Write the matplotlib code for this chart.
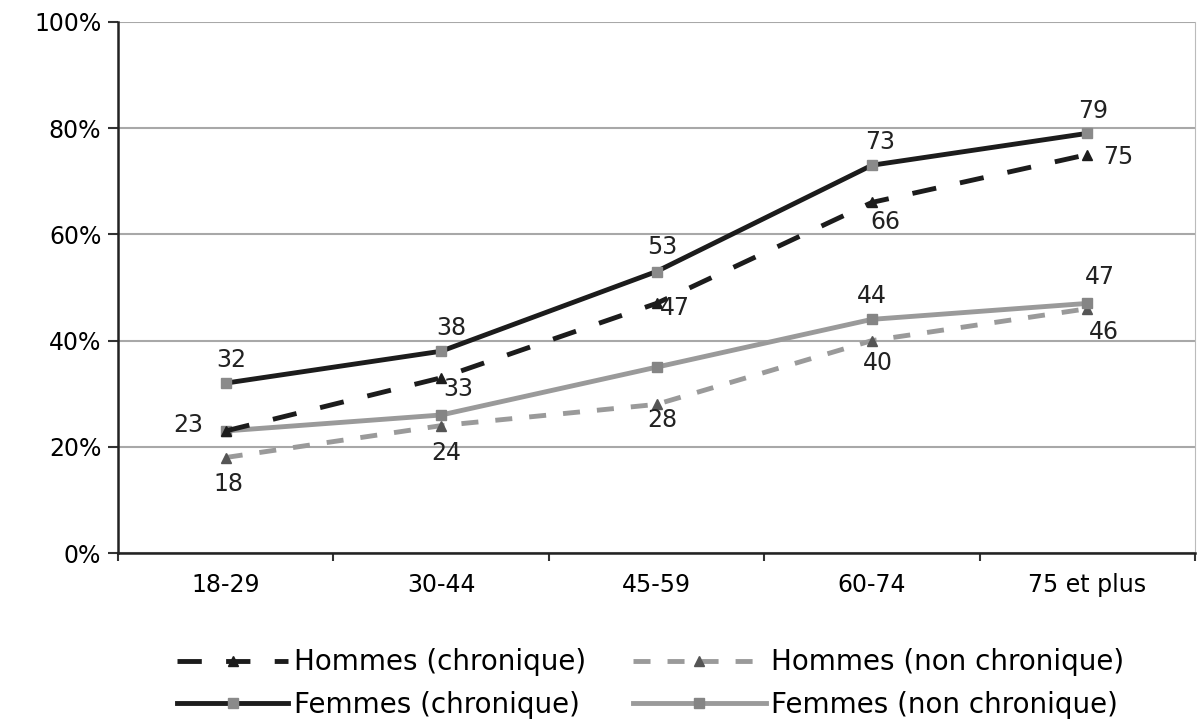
import matplotlib as mpl
import matplotlib.pyplot as plt
import numpy as np

mpl.rcParams['font.family'] = ['DejaVu Sans']

ages = ['18-29', '30-44', '45-59', '60-74', '75 et plus']
hommes_chr = [23, 33, 47, 66, 75]
hommes_nchr = [18, 24, 28, 40, 46]
femmes_chr = [32, 38, 53, 73, 79]
femmes_nchr = [23, 26, 35, 44, 47]

x = np.arange(len(ages))

fig = plt.figure(figsize=(11.98, 7.25), dpi=100)
ax = fig.add_axes([0.0985, 0.237, 0.899, 0.733])

black = '#1c1c1c'
grey = '#9a9a9a'

l_hc, = ax.plot(x, hommes_chr, color=black, lw=3.5, dashes=(5, 5), marker='^',
                ms=7, mfc=black, mec=black, zorder=4)
l_hn, = ax.plot(x, hommes_nchr, color=grey, lw=3.5, dashes=(3.5, 3.5), marker='^',
                ms=7, mfc='#555555', mec='#555555', zorder=3)
l_fc, = ax.plot(x, femmes_chr, color=black, lw=3.5, marker='s',
                ms=7.5, mfc='#8a8a8a', mec='#8a8a8a', zorder=4)
l_fn, = ax.plot(x, femmes_nchr, color=grey, lw=3.5, marker='s',
                ms=7.5, mfc='#858585', mec='#858585', zorder=3)

# data labels (offsets in points)
fs = 17
def lab(vals, offs, idx=None):
    for i, v in enumerate(vals):
        if idx is not None and i not in idx:
            continue
        dx, dy = offs[i]
        ax.annotate(str(v), (x[i], v), xytext=(dx, dy), textcoords='offset points',
                    ha='center', va='center', fontsize=fs, color='#222222', zorder=6)

lab(femmes_chr, [(4, 17), (7, 17), (4, 18), (6, 17), (4, 16)])
lab(hommes_chr, [(0, 0), (12, -8), (13, -3), (10, -14), (22, -2)], idx=[1, 2, 3, 4])
lab(hommes_nchr, [(2, -19), (4, -20), (4, -11), (4, -16), (12, -17)])
lab(femmes_nchr, [(-27, 4), (0, 0), (0, 0), (0, 17), (9, 19)], idx=[0, 3, 4])

ax.set_xlim(-0.5, 4.5)
ax.set_ylim(0, 100)
ax.set_yticks(np.arange(0, 101, 20))
ax.set_yticklabels(['%d%%' % v for v in range(0, 101, 20)], fontsize=fs)
ax.set_xticks(x)
ax.set_xticklabels(ages, fontsize=fs)
ax.set_xticks(np.arange(-0.5, 4.6, 1), minor=True)
ax.tick_params(axis='x', which='major', length=0, pad=14)
ax.tick_params(axis='x', which='minor', length=6, width=1.5, color='#333333')
ax.tick_params(axis='y', length=7, width=1.5, color='#333333', pad=5)
ax.grid(axis='y', color='#a8a8a8', lw=1.5)
ax.set_axisbelow(True)
ax.spines['top'].set_visible(False)
ax.spines['right'].set_color('#bbbbbb')
for s in ['left', 'bottom']:
    ax.spines[s].set_color('#222222')
    ax.spines[s].set_linewidth(1.8)

# legend in two columns with different handle lengths
leg_kw = dict(loc='center left', frameon=False, fontsize=20, handletextpad=0.2,
              labelspacing=0.53, borderpad=0, borderaxespad=0)
leg1 = fig.legend([l_hc, l_fc], ['Hommes (chronique)', 'Femmes (chronique)'],
                  bbox_to_anchor=(0.148, 0.057), handlelength=4.0, **leg_kw)
leg2 = fig.legend([l_hn, l_fn], ['Hommes (non chronique)', 'Femmes (non chronique)'],
                  bbox_to_anchor=(0.528, 0.057), handlelength=4.8, **leg_kw)

fig.savefig('out.png', dpi=100)
